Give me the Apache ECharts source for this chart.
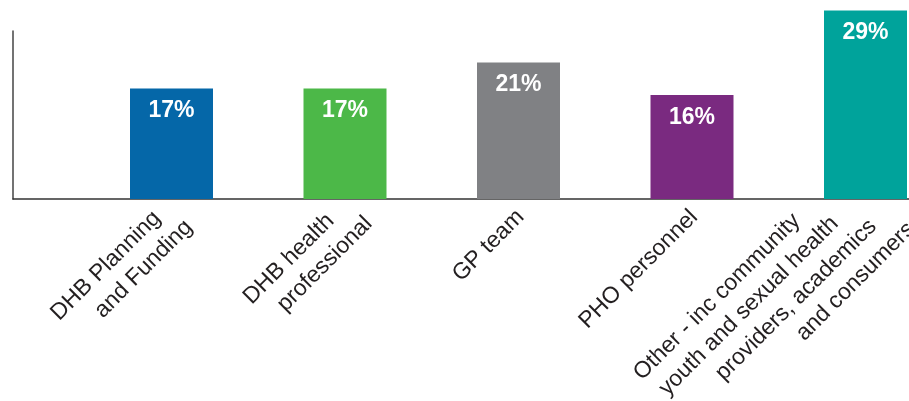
<!DOCTYPE html>
<html>
<head>
<meta charset="utf-8">
<script src="https://cdn.jsdelivr.net/npm/echarts@6/dist/echarts.min.js"></script>
<style>
  html, body { margin: 0; padding: 0; background: #ffffff; }
  #chart { width: 909px; height: 401px; }
</style>
</head>
<body>
<div id="chart"></div>
<script>
// ---- data ----
var categories = [
  ['DHB Planning', 'and Funding'],
  ['DHB health', 'professional'],
  ['GP team'],
  ['PHO personnel'],
  ['Other - inc community', 'youth and sexual health', 'providers, academics', 'and consumers']
];
var values = [17, 17, 21, 16, 29];

// ---- styling ----
var barColors = ['#0567a8', '#4cb848', '#808184', '#7a2a80', '#00a39b'];
// per-label line layout: [shift per line along text, extra right pad, perpendicular shift]
var labelLayout = [
  [16, 26.5, 36.5],
  [25, 19.5, 38.5],
  [0, 30, 33],
  [0, 30, 33],
  [25, 8, 29]
];
var FONT = '"Liberation Sans", Arial, Helvetica, sans-serif';
var LABEL_SIZE = 23;
var LINE_H = 29;

var rich = {};
var catNames = categories.map(function (lines, i) {
  var n = lines.length;
  var lay = labelLayout[i];
  return lines.map(function (txt, k) {
    var name = 'c' + i + 'l' + k;
    var s2 = 2 * lay[2];
    rich[name] = {
      fontSize: LABEL_SIZE,
      fontFamily: FONT,
      lineHeight: LINE_H,
      color: '#231f20',
      padding: [s2 > 0 ? s2 : 0, lay[0] * (n - 1 - k) + lay[1], s2 < 0 ? -s2 : 0, 0]
    };
    return '{' + name + '|' + txt + '}';
  }).join('\n');
});

var chart = echarts.init(document.getElementById('chart'), null, { renderer: 'canvas' });
chart.setOption({
  animation: false,
  backgroundColor: '#ffffff',
  grid: [
    { left: 84.75, right: -43.25, top: 30, bottom: 202, containLabel: false, outerBoundsMode: 'none' },
    { left: 13, right: 0, top: 31, bottom: 202, containLabel: false, outerBoundsMode: 'none' }
  ],
  xAxis: [
    {
      type: 'category',
      gridIndex: 0,
      data: catNames,
      axisLine: { show: false },
      axisTick: { show: false },
      axisLabel: {
        interval: 0,
        rotate: 45,
        margin: -30,
        hideOverlap: false,
        fontSize: LABEL_SIZE,
        fontFamily: FONT,
        color: '#231f20',
        rich: rich
      }
    },
    {
      type: 'category',
      gridIndex: 1,
      data: [''],
      axisLine: { show: true, lineStyle: { color: '#333333', width: 1.5 } },
      axisTick: { show: false },
      axisLabel: { show: false }
    }
  ],
  yAxis: [
    { type: 'value', gridIndex: 0, min: 0, max: 26, show: false, splitLine: { show: false } },
    {
      type: 'value', gridIndex: 1, min: 0, max: 26,
      axisLine: { show: true, lineStyle: { color: '#444444', width: 1.5 } },
      axisTick: { show: false }, axisLabel: { show: false }, splitLine: { show: false }
    }
  ],
  series: [{
    type: 'bar',
    xAxisIndex: 0,
    yAxisIndex: 0,
    barWidth: 83,
    clip: false,
    data: values.map(function (v, i) {
      return { value: v, itemStyle: { color: barColors[i] } };
    }),
    label: {
      show: true,
      position: 'insideTop',
      distance: 11,
      formatter: '{c}%',
      color: '#ffffff',
      fontSize: 23,
      fontWeight: 'bold',
      fontFamily: FONT
    }
  }]
});
</script>
</body>
</html>
